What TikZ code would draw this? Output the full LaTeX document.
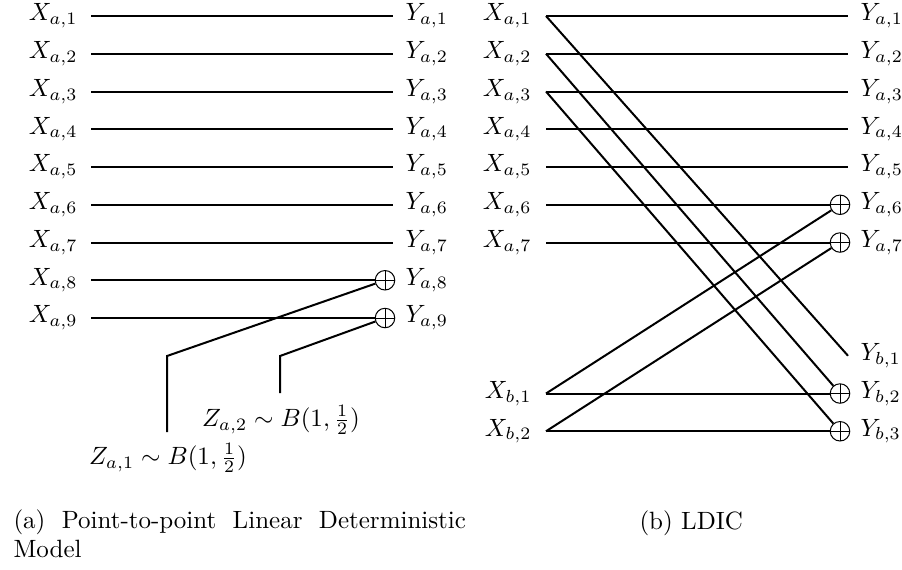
\documentclass[tikz,border=0pt]{standalone}
\begin{document}
\begin{tikzpicture}[x=0.4pt,y=-0.4pt,
  wire/.style={line width=0.8pt},
  xorbox/.style={circle,draw,line width=0.4pt,minimum size=7.8pt,inner sep=0pt,
    path picture={\draw[line width=0.4pt] (path picture bounding box.north) -- (path picture bounding box.south)
      (path picture bounding box.west) -- (path picture bounding box.east);}},
  lab/.style={inner sep=0pt}]
\useasboundingbox (0,0) rectangle (902,569);
% ---------- left panel ----------
\foreach \i in {1,...,9}{
  \pgfmathsetmacro\yy{16+37.75*(\i-1)}
  \coordinate (la\i) at (91,\yy);
  \node[lab,anchor=east] (lxa\i) at (78,\yy) {$X_{a,\i}$};
  \node[lab,anchor=west] (lya\i) at (405,\yy) {$Y_{a,\i}$};
}
\foreach \i in {1,...,7}{
  \pgfmathsetmacro\yy{16+37.75*(\i-1)}
  \coordinate (lea\i) at (393,\yy);
  \draw[wire] (la\i) -- (lea\i);
}
\node[xorbox] (lc8) at (385,280.25) {};
\node[xorbox] (lc9) at (385,318) {};
\draw[wire] (la8) -- (lc8);
\draw[wire] (la9) -- (lc9);
\coordinate (zb1) at (167,356);
\coordinate (ze1) at (167,432);
\coordinate (zb2) at (280,356);
\coordinate (ze2) at (280,393);
\draw[wire] (ze1) -- (zb1) -- (lc8);
\draw[wire] (ze2) -- (zb2) -- (lc9);
\node[lab] (lz1) at (168,458) {$Z_{a,1}\sim B(1,\frac{1}{2})$};
\node[lab] (lz2) at (281,420) {$Z_{a,2}\sim B(1,\frac{1}{2})$};
% ---------- right panel ----------
\foreach \i in {1,...,7}{
  \pgfmathsetmacro\yy{16+37.75*(\i-1)}
  \coordinate (ra\i) at (546,\yy);
  \node[lab,anchor=east] (rxa\i) at (532,\yy) {$X_{a,\i}$};
  \node[lab,anchor=west] (rya\i) at (860,\yy) {$Y_{a,\i}$};
}
\foreach \i in {1,...,5}{
  \pgfmathsetmacro\yy{16+37.75*(\i-1)}
  \coordinate (rea\i) at (848,\yy);
  \draw[wire] (ra\i) -- (rea\i);
}
\coordinate (rb1) at (546,393.5);
\coordinate (rb2) at (546,431.25);
\node[lab,anchor=east] (rxb1) at (532,393.5) {$X_{b,1}$};
\node[lab,anchor=east] (rxb2) at (532,431.25) {$X_{b,2}$};
\coordinate (reb1) at (848,355.75);
\node[lab,anchor=west] (ryb1) at (860,355.75) {$Y_{b,1}$};
\node[lab,anchor=west] (ryb2) at (860,393.5) {$Y_{b,2}$};
\node[lab,anchor=west] (ryb3) at (860,431.25) {$Y_{b,3}$};
\node[xorbox] (rc6) at (840,204.75) {};
\node[xorbox] (rc7) at (840,242.5) {};
\node[xorbox] (rcb2) at (840,393.5) {};
\node[xorbox] (rcb3) at (840,431.25) {};
\draw[wire] (ra6) -- (rc6);
\draw[wire] (ra7) -- (rc7);
\draw[wire] (rb1) -- (rcb2);
\draw[wire] (rb2) -- (rcb3);
\draw[wire] (ra1) -- (reb1);
\draw[wire] (ra2) -- (rcb2);
\draw[wire] (ra3) -- (rcb3);
\draw[wire] (rb1) -- (rc6);
\draw[wire] (rb2) -- (rc7);
% ---------- captions ----------
\node[lab,anchor=base west] (capa) at (13,528) {\hbox to 181pt{(a) Point-to-point Linear Deterministic}};
\node[lab,anchor=base west] (capa2) at (13,557) {Model};
\node[lab,anchor=base west] (capb) at (639,529) {(b) LDIC};
\end{tikzpicture}
\end{document}
